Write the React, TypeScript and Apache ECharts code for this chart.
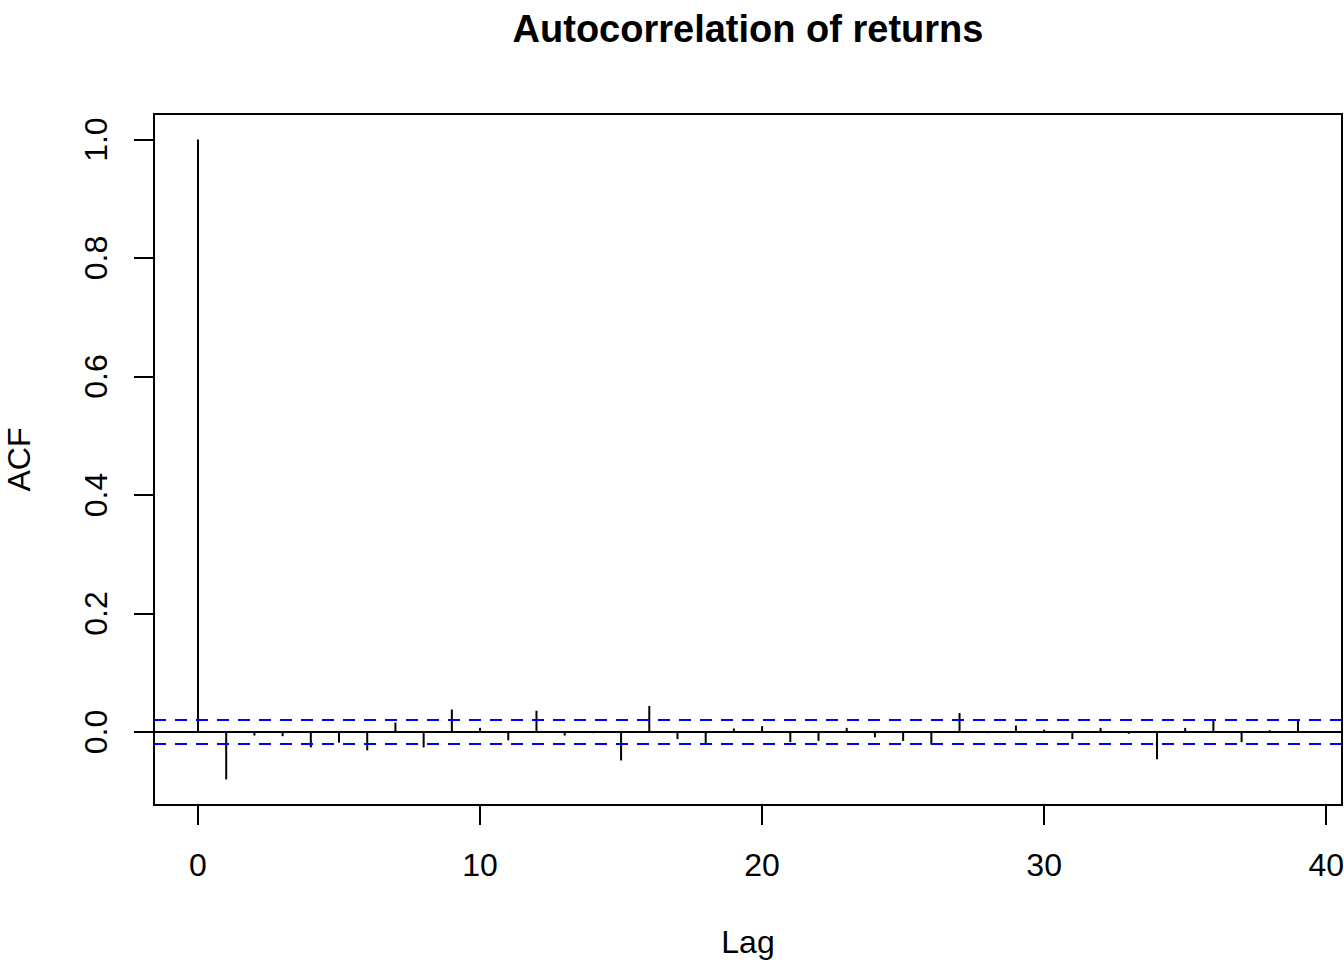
import React, { useEffect, useRef } from "react";
import * as echarts from "echarts";

const lags: number[] = [
  0, 1, 2, 3, 4, 5, 6, 7, 8, 9, 10, 11, 12, 13, 14, 15, 16, 17, 18, 19,
  20, 21, 22, 23, 24, 25, 26, 27, 28, 29, 30, 31, 32, 33, 34, 35, 36, 37, 38, 39,
];
const acfValues: number[] = [
  1.0, -0.080, -0.006, -0.007, -0.026, -0.018, -0.031, 0.016, -0.026, 0.038,
  0.007, -0.014, 0.036, -0.006, -0.002, -0.048, 0.044, -0.012, -0.021, 0.006,
  0.010, -0.017, -0.015, 0.007, -0.009, -0.015, -0.021, 0.032, -0.002, 0.011,
  0.004, -0.012, 0.007, -0.003, -0.046, 0.007, 0.020, -0.017, 0.003, 0.021,
];
const ciBound = 0.0206;
const xTicks: number[] = [0, 10, 20, 30, 40];
const yTicks: number[] = [0, 0.2, 0.4, 0.6, 0.8, 1.0];

const FONT = "'Liberation Sans', Arial, Helvetica, sans-serif";

export default function App() {
  const ref = useRef<HTMLDivElement>(null);

  useEffect(() => {
    if (!ref.current) return;
    const chart = echarts.init(ref.current, undefined, { renderer: "svg" });

    const lagMin = Math.min(...lags);
    const lagMax = Math.max(...lags);
    const xPad = (lagMax - lagMin) * 0.04;
    const yLo = Math.min(...acfValues, -ciBound);
    const yHi = Math.max(...acfValues, ciBound);
    const yPad = (yHi - yLo) * 0.04;

    const data = lags.map((l, i) => [l, acfValues[i]]);

    const dashed = { color: "#0000ff", width: 2, type: [12, 9] as any };

    chart.setOption({
      animation: false,
      backgroundColor: "#ffffff",
      title: {
        text: "Autocorrelation of returns",
        left: 743,
        top: 5,
        textAlign: "center",
        textStyle: { fontFamily: FONT, fontSize: 38, fontWeight: "bold", color: "#000" },
      },
      grid: {
        left: 154,
        right: 2,
        top: 114,
        bottom: 155,
        show: true,
        borderColor: "#000",
        borderWidth: 2,
        backgroundColor: "transparent",
        containLabel: false,
        outerBoundsMode: "none",
      },
      xAxis: {
        type: "value",
        min: lagMin - xPad,
        max: lagMax + xPad,
        name: "Lag",
        nameLocation: "middle",
        nameGap: 121,
        nameTextStyle: { fontFamily: FONT, fontSize: 32, color: "#000" },
        axisLine: { show: false, onZero: false },
        splitLine: { show: false },
        axisTick: {
          show: true,
          length: 20,
          customValues: xTicks,
          lineStyle: { color: "#000", width: 2 },
        },
        axisLabel: {
          customValues: xTicks,
          margin: 44,
          fontFamily: FONT,
          fontSize: 32,
          color: "#000",
          formatter: (v: number) => String(v),
        },
      },
      yAxis: {
        type: "value",
        min: yLo - yPad,
        max: yHi + yPad,
        name: "ACF",
        nameLocation: "middle",
        nameRotate: 90,
        nameGap: 119,
        nameTextStyle: { fontFamily: FONT, fontSize: 32, color: "#000" },
        axisLine: { show: false, onZero: false },
        splitLine: { show: false },
        axisTick: {
          show: true,
          length: 20,
          customValues: yTicks,
          lineStyle: { color: "#000", width: 2 },
        },
        axisLabel: {
          customValues: yTicks,
          rotate: 90,
          margin: 42,
          fontFamily: FONT,
          fontSize: 32,
          color: "#000",
          formatter: (v: number) => v.toFixed(1),
        },
      },
      series: [
        {
          type: "custom",
          data,
          renderItem: (_params: any, api: any) => {
            const x = api.value(0);
            const y = api.value(1);
            const p0 = api.coord([x, 0]);
            const p1 = api.coord([x, y]);
            return {
              type: "line",
              shape: { x1: p0[0], y1: p0[1], x2: p1[0], y2: p1[1] },
              style: { stroke: "#000", lineWidth: 2 },
            };
          },
          markLine: {
            silent: true,
            symbol: "none",
            label: { show: false },
            data: [
              { yAxis: 0, lineStyle: { color: "#000", width: 2, type: "solid" } },
              { yAxis: ciBound, lineStyle: dashed },
              { yAxis: -ciBound, lineStyle: dashed },
            ],
          },
        },
      ],
    });

    return () => chart.dispose();
  }, []);

  return (
    <div
      ref={ref}
      style={{ position: "fixed", left: 0, top: 0, width: 1344, height: 960 }}
    />
  );
}
